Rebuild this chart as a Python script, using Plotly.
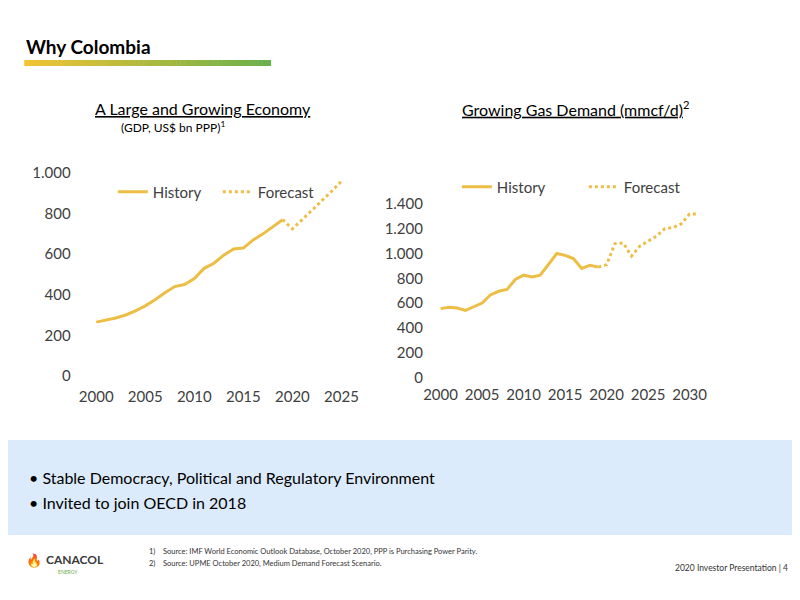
import plotly.graph_objects as go

# GDP (US$ bn PPP)
gdp_years = list(range(2000, 2020))
gdp_hist = [265, 275, 285, 300, 320, 345, 375, 410, 440, 450, 480, 530, 555, 595, 625, 630, 670, 700, 735, 770]
gdp_fc_years = list(range(2019, 2026))
gdp_fc = [770, 725, 770, 815, 860, 910, 960]

# Gas demand (mmcf/d)
gas_years = list(range(2000, 2020))
gas_hist = [555, 565, 560, 540, 570, 600, 665, 695, 710, 790, 825, 810, 825, 915, 1000, 985, 960, 880, 905, 890]
gas_fc_years = list(range(2019, 2032))
gas_fc = [890, 910, 1080, 1085, 980, 1060, 1100, 1140, 1200, 1210, 1240, 1320, 1320]

W, H = 800, 600


def px(x):
    return ((x - 10) / 0.98) / W


def py_(y):
    return 1 - ((y - 2 - 16) / 0.98) / H


gold = "#EDBE45"
tickfont = dict(family="Lato", size=15, color="#404040")
legfont = dict(family="Lato", size=15, color="#404040")

fig = go.Figure()
fig.add_trace(go.Scatter(x=gdp_years, y=gdp_hist, name="History", mode="lines",
                         line=dict(color=gold, width=3), xaxis="x", yaxis="y", legend="legend"))
fig.add_trace(go.Scatter(x=gdp_fc_years, y=gdp_fc, name="Forecast", mode="lines",
                         line=dict(color=gold, width=3, dash="dot"), xaxis="x", yaxis="y", legend="legend"))
fig.add_trace(go.Scatter(x=gas_years, y=gas_hist, name="History", mode="lines",
                         line=dict(color=gold, width=3), xaxis="x2", yaxis="y2", legend="legend2"))
fig.add_trace(go.Scatter(x=gas_fc_years, y=gas_fc, name="Forecast", mode="lines",
                         line=dict(color=gold, width=3, dash="dot"), xaxis="x2", yaxis="y2", legend="legend2"))

ax = dict(showgrid=False, zeroline=False, showline=False, ticks="", tickfont=tickfont)
fig.update_layout(
    width=W, height=H, margin=dict(l=0, r=0, t=0, b=0),
    paper_bgcolor="white", plot_bgcolor="white", separators=",.",
    xaxis=dict(ax, domain=[px(71.6), px(355.9)], range=[1997.5, 2027],
               tickvals=[2000, 2005, 2010, 2015, 2020, 2025], anchor="y"),
    yaxis=dict(ax, domain=[py_(386), py_(173)], range=[-50, 1000],
               tickvals=[0, 200, 400, 600, 800, 1000], tickformat=",d", anchor="x"),
    xaxis2=dict(ax, domain=[px(417.7), px(695)], range=[1998, 2032],
                tickvals=[2000, 2005, 2010, 2015, 2020, 2025, 2030], anchor="y2"),
    yaxis2=dict(ax, domain=[py_(383.5), py_(204)], range=[-50, 1400],
                tickvals=list(range(0, 1401, 200)), tickformat=",d", anchor="x2"),
    legend=dict(orientation="h", x=px(112), y=py_(192), xanchor="left", yanchor="middle",
                font=legfont, bgcolor="rgba(0,0,0,0)", entrywidth=60),
    legend2=dict(orientation="h", x=px(450), y=py_(187), xanchor="left", yanchor="middle",
                 font=legfont, bgcolor="rgba(0,0,0,0)", entrywidth=82),
)

shapes = []
# gradient bar under the title
n = 60
x0, x1 = 25, 267
for i in range(n):
    t = i / (n - 1)
    r = int(242 + (106 - 242) * t)
    g = int(196 + (176 - 196) * t)
    b = int(52 + (76 - 52) * t)
    shapes.append(dict(type="rect", xref="paper", yref="paper",
                       x0=px(x0 + (x1 - x0) * i / n), x1=px(x0 + (x1 - x0) * (i + 1) / n + 0.5),
                       y0=py_(66), y1=py_(60), line=dict(width=0), fillcolor=f"rgb({r},{g},{b})"))
# blue box
shapes.append(dict(type="rect", xref="paper", yref="paper", x0=-0.05, x1=1.05, y0=py_(535), y1=py_(440),
                   line=dict(width=0), fillcolor="#DCEBFB", layer="below"))
fig.update_layout(shapes=shapes)


def ann(text, x, y, size, color="#000000", anchor="left", family="Lato"):
    fig.add_annotation(text=text, xref="paper", yref="paper", x=px(x), y=py_(y),
                       xanchor=anchor, yanchor="middle", showarrow=False,
                       font=dict(family=family, size=size, color=color))


ann("<b>Why Colombia</b>", 25, 46, 19)
ann("<u>A Large and Growing Economy</u>", 93, 108, 16)
ann("(GDP, US$ bn PPP)<sup>1</sup>", 118, 127, 12)
ann("<u>Growing Gas Demand (mmcf/d)</u><sup>2</sup>", 453, 108, 16)
ann("• Stable Democracy, Political and Regulatory Environment", 28, 477, 16)
ann("• Invited to join OECD in 2018", 28, 502, 16)
ann("1)    Source: IMF World Economic Outlook Database, October 2020, PPP is Purchasing Power Parity.", 146, 551, 7.5, "#333333")
ann("2)    Source: UPME October 2020, Medium Demand Forecast Scenario.", 146, 563, 7.5, "#333333")
ann("2020 Investor Presentation | 4", 777, 568, 8.5, "#333333", anchor="right")
ann("<b>CANACOL</b>", 44, 559, 12, "#3a3a3a")
ann("ENERGY", 68, 572, 5, "#6AAF4C", anchor="center")
ann("🔥", 35, 560, 13, "#F2B632", anchor="center")

fig.write_html("out.html")
